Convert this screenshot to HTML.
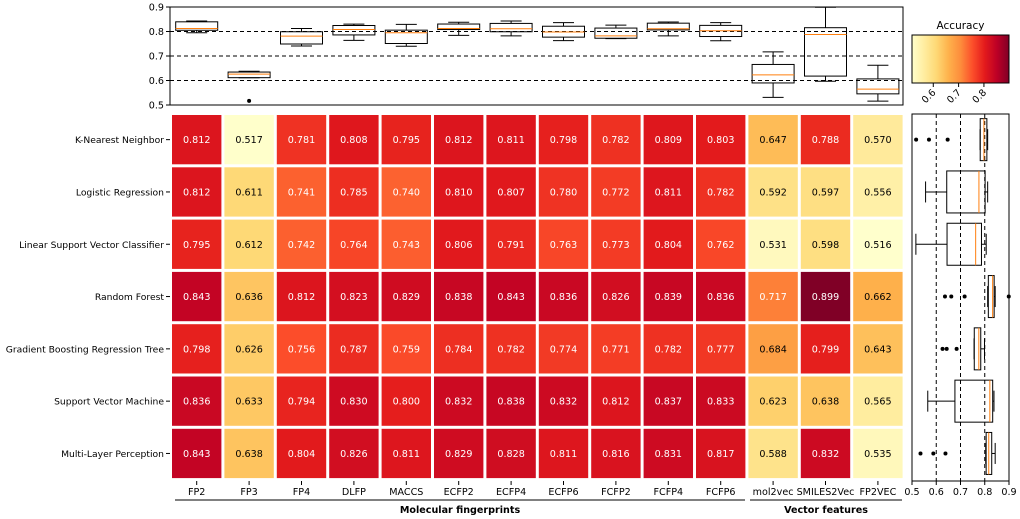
<!DOCTYPE html>
<html><head><meta charset="utf-8"><style>
html,body{margin:0;padding:0;background:#fff;}
svg{display:block;font-family:"DejaVu Sans","Liberation Sans",sans-serif;}
</style></head><body>
<svg id="c" width="1020" height="519" viewBox="0 0 1020 519"></svg>
<script>
const models=["K-Nearest Neighbor","Logistic Regression","Linear Support Vector Classifier","Random Forest","Gradient Boosting Regression Tree","Support Vector Machine","Multi-Layer Perception"];
const features=["FP2","FP3","FP4","DLFP","MACCS","ECFP2","ECFP4","ECFP6","FCFP2","FCFP4","FCFP6","mol2vec","SMILES2Vec","FP2VEC"];
const rowKNN=[.812,.517,.781,.808,.795,.812,.811,.798,.782,.809,.803,.647,.788,.570];
const rowLR=[.812,.611,.741,.785,.740,.810,.807,.780,.772,.811,.782,.592,.597,.556];
const rowLSVC=[.795,.612,.742,.764,.743,.806,.791,.763,.773,.804,.762,.531,.598,.516];
const rowRF=[.843,.636,.812,.823,.829,.838,.843,.836,.826,.839,.836,.717,.899,.662];
const rowGBRT=[.798,.626,.756,.787,.759,.784,.782,.774,.771,.782,.777,.684,.799,.643];
const rowSVM=[.836,.633,.794,.830,.800,.832,.838,.832,.812,.837,.833,.623,.638,.565];
const rowMLP=[.843,.638,.804,.826,.811,.829,.828,.811,.816,.831,.817,.588,.832,.535];
const axisTicks=[0.5,0.6,0.7,0.8,0.9];
const cbTicks=[0.6,0.7,0.8];
const values=[rowKNN,rowLR,rowLSVC,rowRF,rowGBRT,rowSVM,rowMLP];

const FS=9.6;
const svg=document.getElementById('c');
const NS='http://www.w3.org/2000/svg';
function E(t,a,p){const e=document.createElementNS(NS,t);for(const k in a)e.setAttribute(k,a[k]);(p||svg).appendChild(e);return e;}
const X0=172,PW=52.4,Y0=115,PH=52.3,GAP=3;
const colX=i=>X0+i*PW, rowY=j=>Y0+j*PH;
const all=values.flat();const vmin=Math.min(...all),vmax=Math.max(...all);
const stops=["#ffffcc","#ffeda0","#fed976","#feb24c","#fd8d3c","#fc4e2a","#e31a1c","#bd0026","#800026"];
function hex(h){return [1,3,5].map(i=>parseInt(h.substr(i,2),16));}
function cmap(v){let t=(v-vmin)/(vmax-vmin);t=Math.max(0,Math.min(1,t))*(stops.length-1);const i=Math.min(Math.floor(t),stops.length-2),f=t-i;const a=hex(stops[i]),b=hex(stops[i+1]);return 'rgb('+a.map((x,k)=>Math.round(x+(b[k]-x)*f)).join(',')+')';}
values.forEach((row,j)=>{row.forEach((v,i)=>{
 const g=E('g',{});
 
 
 E('rect',{x:colX(i),y:rowY(j),width:PW-GAP,height:PH-GAP,fill:cmap(v)},g);
 const t=E('text',{x:colX(i)+(PW-GAP)/2,y:rowY(j)+(PH-GAP)/2+3.5,'text-anchor':'middle','font-size':FS,fill:v>0.7?'#fff':'#000'},g);
 t.textContent=v.toFixed(3);
});});
models.forEach((m,j)=>{const yy=rowY(j)+(PH-GAP)/2;
 E('line',{x1:166,x2:170,y1:yy,y2:yy,stroke:'#000'});
 const t=E('text',{x:164,y:yy+3.5,'text-anchor':'end','font-size':9.2});
 
 
 t.textContent=m;});
features.forEach((f,i)=>{const xx=colX(i)+(PW-GAP)/2;
 E('line',{x1:xx,x2:xx,y1:481,y2:485,stroke:'#000'});
 const t=E('text',{x:xx,y:495,'text-anchor':'middle','font-size':FS});
 
 
 t.textContent=f;});
E('line',{x1:175,x2:745,y1:500,y2:500,stroke:'#000'});
E('line',{x1:750,x2:902,y1:500,y2:500,stroke:'#000'});
let g1=E('text',{x:460,y:513,'text-anchor':'middle','font-size':FS,'font-weight':'bold'});g1.textContent='Molecular fingerprints';

let g2=E('text',{x:826,y:513,'text-anchor':'middle','font-size':FS,'font-weight':'bold'});g2.textContent='Vector features';


function q(s,p){const h=(s.length-1)*p,l=Math.floor(h);return s[l]+(s[Math.min(l+1,s.length-1)]-s[l])*(h-l);}
function stats(a){const s=[...a].sort((x,y)=>x-y);const q1=q(s,.25),q3=q(s,.75),md=q(s,.5),iqr=q3-q1;
 const lo=s.find(v=>v>=q1-1.5*iqr),hi=[...s].reverse().find(v=>v<=q3+1.5*iqr);
 return {q1,q3,md,lo,hi,out:s.filter(v=>v<lo||v>hi)};}

const TL=170,TR=903,TT=7,TB=105;
const ty=v=>TB-(v-0.5)/0.4*(TB-TT);
const topG=E('g',{});
[0.6,0.7,0.8].forEach(v=>E('line',{x1:TL,x2:TR,y1:ty(v),y2:ty(v),stroke:'#000','stroke-dasharray':'4,3'},topG));
axisTicks.forEach(v=>{E('line',{x1:TL-4,x2:TL,y1:ty(v),y2:ty(v),stroke:'#000'},topG);const t=E('text',{x:TL-6,y:ty(v)+3.5,'text-anchor':'end','font-size':FS},topG);t.textContent=v.toFixed(1);});
features.forEach((f,i)=>{const col=values.map(r=>r[i]);const s=stats(col);const cxx=colX(i)+(PW-GAP)/2,w=42;
 const g=E('g',{},topG);
 E('line',{x1:cxx,x2:cxx,y1:ty(s.hi),y2:ty(s.q3),stroke:'#000'},g);E('line',{x1:cxx,x2:cxx,y1:ty(s.lo),y2:ty(s.q1),stroke:'#000'},g);
 E('line',{x1:cxx-w/4,x2:cxx+w/4,y1:ty(s.hi),y2:ty(s.hi),stroke:'#000'},g);E('line',{x1:cxx-w/4,x2:cxx+w/4,y1:ty(s.lo),y2:ty(s.lo),stroke:'#000'},g);
 E('rect',{x:cxx-w/2,y:ty(s.q3),width:w,height:Math.max(0.5,ty(s.q1)-ty(s.q3)),fill:'none',stroke:'#000'},g);
 E('line',{x1:cxx-w/2,x2:cxx+w/2,y1:ty(s.md),y2:ty(s.md),stroke:'#ff7f0e'},g);
 s.out.forEach(o=>E('circle',{cx:cxx,cy:ty(o),r:2,fill:'#000'},g));});
E('rect',{x:TL,y:TT,width:TR-TL,height:TB-TT,fill:'none',stroke:'#000'},topG);

const RL=912,RR=1009,RT=114,RB=481;
const rx=v=>RL+(v-0.5)/0.4*(RR-RL);
const rt=E('g',{});
[0.6,0.7,0.8].forEach(v=>E('line',{x1:rx(v),x2:rx(v),y1:RT,y2:RB,stroke:'#000','stroke-dasharray':'4,3'},rt));
axisTicks.forEach(v=>{E('line',{x1:rx(v),x2:rx(v),y1:RB,y2:RB+4,stroke:'#000'},rt);const t=E('text',{x:rx(v),y:495,'text-anchor':'middle','font-size':FS},rt);t.textContent=v.toFixed(1);});
values.forEach((row,j)=>{const s=stats(row);const cy=rowY(j)+(PH-GAP)/2,h=42;
 const g=E('g',{},rt);
 E('line',{y1:cy,y2:cy,x1:rx(s.hi),x2:rx(s.q3),stroke:'#000'},g);E('line',{y1:cy,y2:cy,x1:rx(s.lo),x2:rx(s.q1),stroke:'#000'},g);
 E('line',{y1:cy-h/4,y2:cy+h/4,x1:rx(s.hi),x2:rx(s.hi),stroke:'#000'},g);E('line',{y1:cy-h/4,y2:cy+h/4,x1:rx(s.lo),x2:rx(s.lo),stroke:'#000'},g);
 E('rect',{x:rx(s.q1),y:cy-h/2,width:Math.max(0.5,rx(s.q3)-rx(s.q1)),height:h,fill:'none',stroke:'#000'},g);
 E('line',{y1:cy-h/2,y2:cy+h/2,x1:rx(s.md),x2:rx(s.md),stroke:'#ff7f0e'},g);
 s.out.forEach(o=>E('circle',{cx:rx(o),cy:cy,r:2,fill:'#000'},g));});
E('rect',{x:RL,y:RT,width:RR-RL,height:RB-RT,fill:'none',stroke:'#000'},rt);

const CL=912,CR=1009,CT=35,CB=83;
const cb=E('g',{});
const defs=E('defs',{},cb);const lg=E('linearGradient',{id:'gr',x1:0,x2:1,y1:0,y2:0},defs);
stops.forEach((c,k)=>E('stop',{offset:k/(stops.length-1),'stop-color':c},lg));
E('rect',{x:CL,y:CT,width:CR-CL,height:CB-CT,fill:'url(#gr)',stroke:'#000'},cb);
const ct=E('text',{x:(CL+CR)/2,y:29,'text-anchor':'middle','font-size':10.5},cb);ct.textContent='Accuracy';
const cbx=v=>CL+(v-vmin)/(vmax-vmin)*(CR-CL);
cbTicks.forEach(v=>{E('line',{x1:cbx(v),x2:cbx(v),y1:CB,y2:CB+4,stroke:'#000'},cb);const t=E('text',{x:cbx(v)+3,y:CB+10,'text-anchor':'end','font-size':FS,transform:`rotate(-45 ${cbx(v)+3} ${CB+10})`},cb);t.textContent=v.toFixed(1);});
</script>
</body></html>
